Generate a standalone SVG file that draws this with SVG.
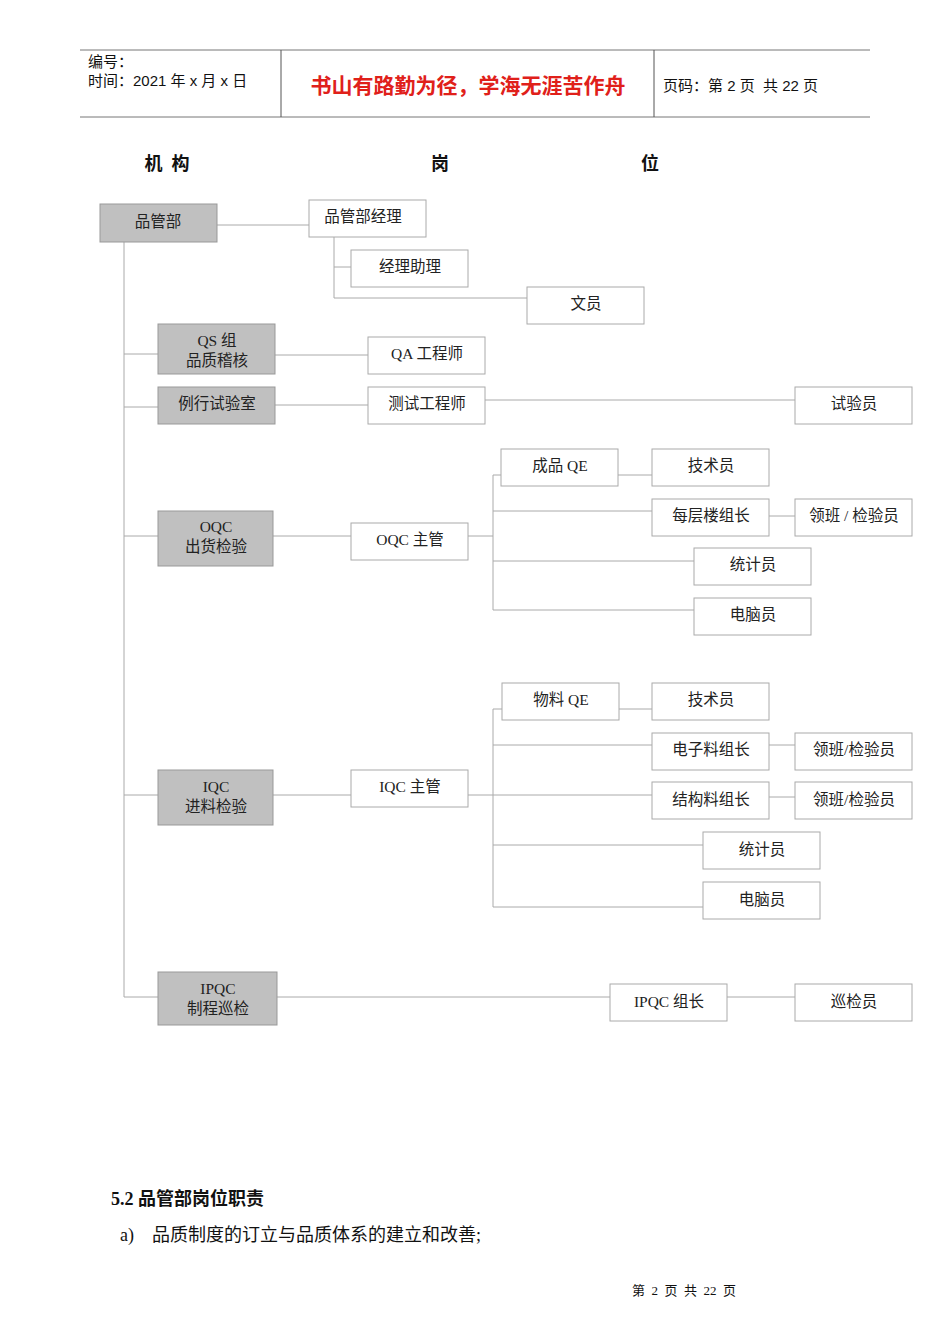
<svg xmlns="http://www.w3.org/2000/svg" width="950" height="1344" viewBox="0 0 950 1344">
<style>
.t{font-family:"Liberation Serif","Noto Sans CJK SC",serif;font-size:15.5px;fill:#222;text-anchor:middle}
.h{font-family:"Liberation Sans","Noto Sans CJK SC",sans-serif;font-size:15px;fill:#111}
.n rect{fill:#fff;stroke:#aaa;stroke-width:1}
.g rect{fill:#c0c0c0;stroke:#999;stroke-width:1}
#c line,#c polyline{stroke:#aaa;stroke-width:1;fill:none}
</style>
<rect width="950" height="1344" fill="#fff"/>
<g id="header">
<line x1="80" y1="50" x2="870" y2="50" stroke="#777"/>
<line x1="80" y1="117" x2="870" y2="117" stroke="#777"/>
<line x1="281" y1="50" x2="281" y2="117" stroke="#555"/>
<line x1="654" y1="50" x2="654" y2="117" stroke="#555"/>
<text class="h" x="88" y="67">编号：</text>
<text class="h" x="88" y="86">时间：2021 年 x 月 x 日</text>
<text x="468" y="93" text-anchor="middle" font-family="Noto Sans CJK SC,sans-serif" font-size="21" font-weight="bold" fill="#e0201a">书山有路勤为径，学海无涯苦作舟</text>
<text class="h" x="663" y="91" xml:space="preserve">页码：第 2 页  共 22 页</text>
</g>
<g font-family="Liberation Serif,Noto Sans CJK SC,serif" font-size="18" font-weight="bold" fill="#111" text-anchor="middle">
<text x="167" y="170" xml:space="preserve">机  构</text><text x="440" y="170">岗</text><text x="650" y="170">位</text>
</g>
<g id="c">
<line x1="124" y1="242" x2="124" y2="997"/>
<line x1="124" y1="354" x2="158" y2="354"/><line x1="124" y1="407" x2="158" y2="407"/>
<line x1="124" y1="536" x2="158" y2="536"/><line x1="124" y1="795" x2="158" y2="795"/>
<line x1="124" y1="997" x2="158" y2="997"/>
<line x1="217" y1="225" x2="309" y2="225"/>
<line x1="334" y1="237" x2="334" y2="298"/><line x1="334" y1="267" x2="351" y2="267"/><line x1="334" y1="298" x2="527" y2="298"/>
<line x1="275" y1="355" x2="368" y2="355"/><line x1="275" y1="405" x2="368" y2="405"/>
<line x1="485" y1="400" x2="795" y2="400"/>
<line x1="273" y1="536" x2="351" y2="536"/><line x1="468" y1="536" x2="493" y2="536"/>
<line x1="493" y1="475" x2="493" y2="610"/>
<line x1="493" y1="475" x2="501" y2="475"/><line x1="493" y1="511" x2="652" y2="511"/>
<line x1="493" y1="561" x2="694" y2="561"/><line x1="493" y1="610" x2="694" y2="610"/>
<line x1="618" y1="475" x2="652" y2="475"/><line x1="769" y1="516" x2="795" y2="516"/>
<line x1="273" y1="795" x2="351" y2="795"/><line x1="468" y1="795" x2="652" y2="795"/>
<line x1="493" y1="709" x2="493" y2="907"/>
<line x1="493" y1="709" x2="502" y2="709"/><line x1="493" y1="745" x2="652" y2="745"/>
<line x1="493" y1="845" x2="703" y2="845"/><line x1="493" y1="907" x2="703" y2="907"/>
<line x1="619" y1="709" x2="652" y2="709"/><line x1="769" y1="745" x2="795" y2="745"/><line x1="769" y1="797" x2="795" y2="797"/>
<line x1="277" y1="997" x2="610" y2="997"/><line x1="727" y1="997" x2="795" y2="997"/>
</g>
<g id="n1" class="g"><rect x="100" y="204" width="117" height="38"/><text class="t" x="158" y="227">品管部</text></g>
<g id="n2" class="n"><rect x="309" y="200" width="117" height="37"/><text class="t" x="363" y="222">品管部经理</text></g>
<g id="n3" class="n"><rect x="351" y="250" width="117" height="37"/><text class="t" x="410" y="272">经理助理</text></g>
<g id="n4" class="n"><rect x="527" y="287" width="117" height="37"/><text class="t" x="586" y="309">文员</text></g>
<g id="n5" class="g"><rect x="158" y="324" width="117" height="50"/><text class="t" x="217" y="346">QS 组</text><text class="t" x="217" y="366">品质稽核</text></g>
<g id="n6" class="n"><rect x="368" y="337" width="117" height="37"/><text class="t" x="427" y="359">QA 工程师</text></g>
<g id="n7" class="g"><rect x="158" y="387" width="117" height="37"/><text class="t" x="217" y="409">例行试验室</text></g>
<g id="n8" class="n"><rect x="368" y="387" width="117" height="37"/><text class="t" x="427" y="409">测试工程师</text></g>
<g id="n9" class="n"><rect x="795" y="387" width="117" height="37"/><text class="t" x="854" y="409">试验员</text></g>
<g id="n10" class="g"><rect x="158" y="511" width="115" height="55"/><text class="t" x="216" y="532">OQC</text><text class="t" x="216" y="552">出货检验</text></g>
<g id="n11" class="n"><rect x="351" y="523" width="117" height="37"/><text class="t" x="410" y="545">OQC 主管</text></g>
<g id="n12" class="n"><rect x="501" y="449" width="117" height="37"/><text class="t" x="560" y="471">成品 QE</text></g>
<g id="n13" class="n"><rect x="652" y="449" width="117" height="37"/><text class="t" x="711" y="471">技术员</text></g>
<g id="n14" class="n"><rect x="652" y="499" width="117" height="37"/><text class="t" x="711" y="521">每层楼组长</text></g>
<g id="n15" class="n"><rect x="795" y="499" width="117" height="37"/><text class="t" x="854" y="521">领班 / 检验员</text></g>
<g id="n16" class="n"><rect x="694" y="548" width="117" height="37"/><text class="t" x="753" y="570">统计员</text></g>
<g id="n17" class="n"><rect x="694" y="598" width="117" height="37"/><text class="t" x="753" y="620">电脑员</text></g>
<g id="n18" class="g"><rect x="158" y="770" width="115" height="55"/><text class="t" x="216" y="792">IQC</text><text class="t" x="216" y="812">进料检验</text></g>
<g id="n19" class="n"><rect x="351" y="770" width="117" height="37"/><text class="t" x="410" y="792">IQC 主管</text></g>
<g id="n20" class="n"><rect x="502" y="683" width="117" height="37"/><text class="t" x="561" y="705">物料 QE</text></g>
<g id="n21" class="n"><rect x="652" y="683" width="117" height="37"/><text class="t" x="711" y="705">技术员</text></g>
<g id="n22" class="n"><rect x="652" y="733" width="117" height="37"/><text class="t" x="711" y="755">电子料组长</text></g>
<g id="n23" class="n"><rect x="795" y="733" width="117" height="37"/><text class="t" x="854" y="755">领班/检验员</text></g>
<g id="n24" class="n"><rect x="652" y="782" width="117" height="37"/><text class="t" x="711" y="805">结构料组长</text></g>
<g id="n25" class="n"><rect x="795" y="782" width="117" height="37"/><text class="t" x="854" y="805">领班/检验员</text></g>
<g id="n26" class="n"><rect x="703" y="832" width="117" height="37"/><text class="t" x="762" y="855">统计员</text></g>
<g id="n27" class="n"><rect x="703" y="882" width="117" height="37"/><text class="t" x="762" y="905">电脑员</text></g>
<g id="n28" class="g"><rect x="158" y="972" width="119" height="53"/><text class="t" x="218" y="994">IPQC</text><text class="t" x="218" y="1014">制程巡检</text></g>
<g id="n29" class="n"><rect x="610" y="984" width="117" height="37"/><text class="t" x="669" y="1007">IPQC 组长</text></g>
<g id="n30" class="n"><rect x="795" y="984" width="117" height="37"/><text class="t" x="854" y="1007">巡检员</text></g>
<g font-family="Liberation Serif,Noto Sans CJK SC,serif" fill="#111">
<text x="111" y="1205" font-size="18" font-weight="bold">5.2 品管部岗位职责</text>
<text x="120" y="1241" font-size="18" xml:space="preserve">a)    品质制度的订立与品质体系的建立和改善;</text>
<text x="632" y="1295" font-size="13" xml:space="preserve">第  2  页  共  22  页</text>
</g>
</svg>
